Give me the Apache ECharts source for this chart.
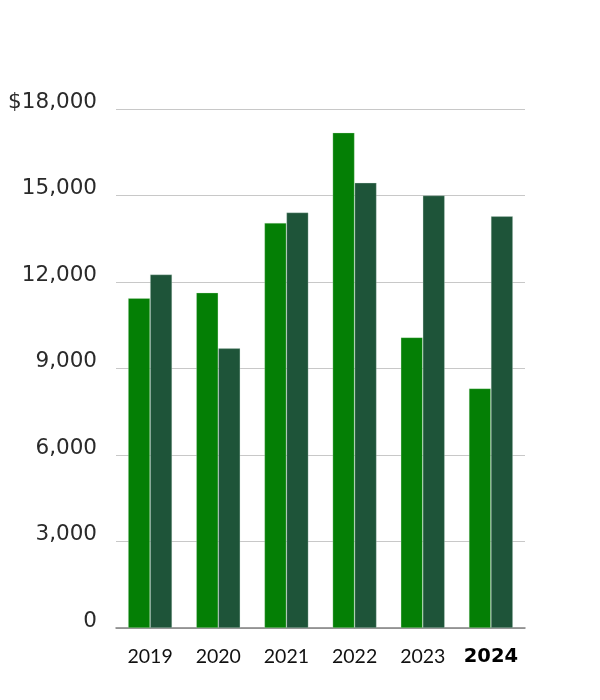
<!DOCTYPE html>
<html><head><meta charset="utf-8">
<script src="https://cdn.jsdelivr.net/npm/echarts@6/dist/echarts.min.js"></script>
<style>html,body{margin:0;padding:0;background:#fff}#c{width:600px;height:700px}</style>
</head><body><div id="c"></div>
<script>
const categories = ['2019','2020','2021','2022','2023','2024'];
const seriesA = [11440, 11630, 14050, 17180, 10080, 8310];
const seriesB = [12260, 9700, 14410, 15440, 15000, 14280];
const yTicks = [0, 3000, 6000, 9000, 12000, 15000, 18000];

const chart = echarts.init(document.getElementById('c'));
chart.setOption({
  animation: false,
  grid: {left: 116, right: 75, top: 109, bottom: 72},
  xAxis: {
    type: 'category', data: categories,
    axisLine: {lineStyle: {color: '#808080', width: 1.5}},
    axisTick: {show: false},
    axisLabel: {
      interval: 0, margin: 19, fontFamily: 'Lato', fontWeight: 'normal', fontSize: 19.5, color: '#111',
      formatter: v => v === '2024' ? '{b|' + v + '}' : v,
      rich: {b: {fontWeight: 'bold', fontSize: 19.5, fontFamily: 'DejaVu Sans', color: '#000'}}
    }
  },
  yAxis: {
    type: 'value', min: 0, max: 18000, interval: 3000,
    axisLine: {show: false}, axisTick: {show: false},
    splitLine: {lineStyle: {color: '#c8c8c8', width: 1}},
    axisLabel: {
      margin: 19, fontFamily: 'DejaVu Sans', fontWeight: 'normal', fontSize: 21.5, color: '#2a2a2a',
      verticalAlign: 'bottom', lineHeight: 14,
      formatter: v => {
        const s = v === 0 ? '0' : v.toLocaleString('en-US');
        return v === yTicks[yTicks.length - 1] ? '$' + s : s;
      }
    }
  },
  series: [
    {type: 'bar', data: seriesA, barWidth: 22, barGap: '0%',
     itemStyle: {color: '#047f05', borderColor: 'rgba(200,230,200,0.5)', borderWidth: 0.6}},
    {type: 'bar', data: seriesB, barWidth: 22,
     itemStyle: {color: '#1e5439', borderColor: 'rgba(200,220,210,0.5)', borderWidth: 0.6}}
  ]
});
</script></body></html>
